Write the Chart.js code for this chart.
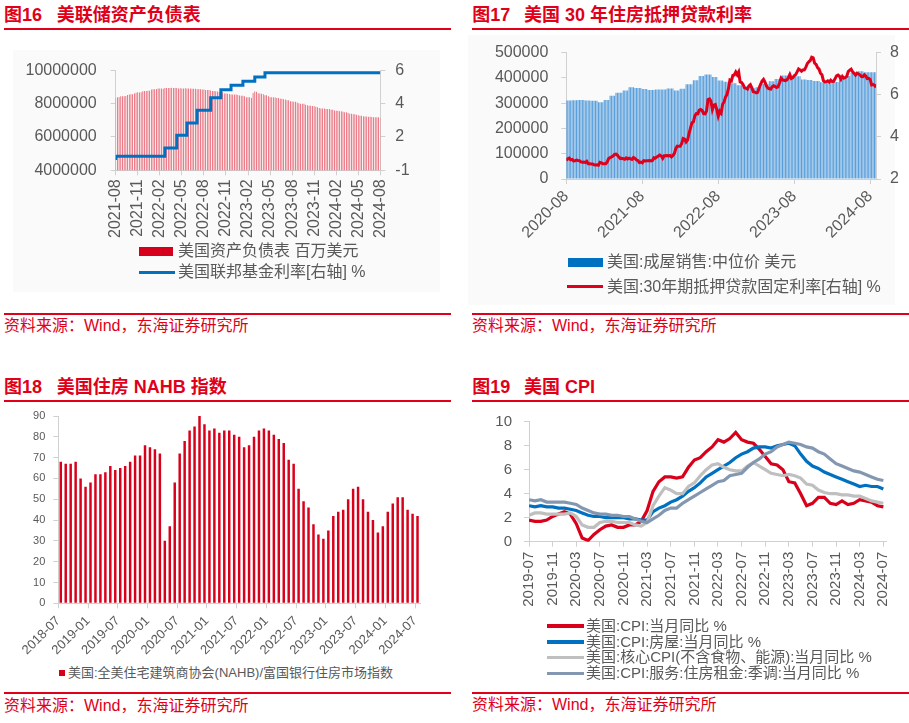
<!DOCTYPE html>
<html><head><meta charset="utf-8">
<script src="https://cdn.jsdelivr.net/npm/chart.js@4.4.1/dist/chart.umd.min.js"></script>
<style>
html,body{margin:0;padding:0;background:#fff;}
body{width:909px;height:723px;position:relative;overflow:hidden;font-family:'Liberation Sans','Noto Sans CJK SC',sans-serif;}
.t{position:absolute;font-weight:bold;font-size:18px;color:#e0001a;line-height:20px;white-space:nowrap;}
.rule{position:absolute;height:2px;background:#e0001a;}
.src{position:absolute;font-size:16px;color:#e0001a;line-height:18px;white-space:nowrap;}
.leg{position:absolute;color:#595959;white-space:nowrap;}
.sw{position:absolute;}
.bg{position:absolute;background:#fafafa;}
canvas{position:absolute;}
</style>
</head><body>
<div class="bg" style="left:13px;top:50px;width:427px;height:242px;"></div>
<div class="bg" style="left:468px;top:35px;width:427px;height:270px;"></div>

<div class="t" style="left:4px;top:5px;">图16</div>
<div class="t" style="left:56.7px;top:5px;">美联储资产负债表</div>
<div class="rule" style="left:4px;top:28px;width:447px;"></div>
<div class="t" style="left:472.3px;top:5px;">图17</div>
<div class="t" style="left:524px;top:5px;">美国 30 年住房抵押贷款利率</div>
<div class="rule" style="left:472px;top:28px;width:437px;"></div>
<div class="t" style="left:4px;top:376.5px;">图18</div>
<div class="t" style="left:56.7px;top:376.5px;">美国住房 NAHB 指数</div>
<div class="rule" style="left:4px;top:400px;width:447px;"></div>
<div class="t" style="left:472.3px;top:376.5px;">图19</div>
<div class="t" style="left:524px;top:376.5px;">美国 CPI</div>
<div class="rule" style="left:472px;top:400px;width:437px;"></div>

<canvas id="c16" width="455" height="210" style="left:0;top:40px;"></canvas>
<canvas id="c17" width="454" height="240" style="left:455px;top:30px;"></canvas>
<canvas id="c18" width="455" height="265" style="left:0;top:400px;"></canvas>
<canvas id="c19" width="454" height="225" style="left:455px;top:400px;"></canvas>

<!-- legends -->
<div class="sw" style="left:139px;top:247px;width:34px;height:9px;background:#d6001c;"></div>
<div class="leg" style="left:178px;top:242px;font-size:16px;line-height:18px;">美国资产负债表 百万美元</div>
<div class="sw" style="left:139px;top:270.5px;width:36px;height:3px;background:#0070c0;"></div>
<div class="leg" style="left:178px;top:263px;font-size:16px;line-height:18px;">美国联邦基金利率[右轴] %</div>

<div class="sw" style="left:568px;top:258px;width:35px;height:9px;background:#0070c0;"></div>
<div class="leg" style="left:607px;top:253px;font-size:16px;line-height:18px;">美国:成屋销售:中位价 美元</div>
<div class="sw" style="left:567px;top:285.3px;width:36px;height:3px;background:#e0001b;"></div>
<div class="leg" style="left:607px;top:278px;font-size:16px;line-height:18px;">美国:30年期抵押贷款固定利率[右轴] %</div>

<div class="sw" style="left:59px;top:670px;width:6px;height:6px;background:#d6001c;"></div>
<div class="leg" style="left:68px;top:665px;font-size:13px;line-height:16px;">美国:全美住宅建筑商协会(NAHB)/富国银行住房市场指数</div>

<div class="sw" style="left:547px;top:624.3px;width:37px;height:3.5px;background:#d9001b;"></div>
<div class="leg" style="left:586px;top:618px;font-size:15px;line-height:16px;">美国:CPI:当月同比 %</div>
<div class="sw" style="left:547px;top:640px;width:37px;height:3.5px;background:#0070c0;"></div>
<div class="leg" style="left:586px;top:633.7px;font-size:15px;line-height:16px;">美国:CPI:房屋:当月同比 %</div>
<div class="sw" style="left:547px;top:655.6px;width:37px;height:3.5px;background:#bfbfbf;"></div>
<div class="leg" style="left:586px;top:649.3px;font-size:15px;line-height:16px;">美国:核心CPI(不含食物、能源):当月同比 %</div>
<div class="sw" style="left:547px;top:671.6px;width:37px;height:3.5px;background:#8497b0;"></div>
<div class="leg" style="left:586px;top:665.3px;font-size:15px;line-height:16px;">美国:CPI:服务:住房租金:季调:当月同比 %</div>

<div class="rule" style="left:4px;top:313px;width:447px;"></div>
<div class="src" style="left:4px;top:317px;">资料来源：Wind，东海证券研究所</div>
<div class="rule" style="left:472px;top:313px;width:437px;"></div>
<div class="src" style="left:472px;top:317px;">资料来源：Wind，东海证券研究所</div>
<div class="rule" style="left:4px;top:692px;width:447px;"></div>
<div class="src" style="left:4px;top:696.5px;">资料来源：Wind，东海证券研究所</div>
<div class="rule" style="left:472px;top:692px;width:437px;"></div>
<div class="src" style="left:472px;top:696px;">资料来源：Wind，东海证券研究所</div>

<script>
// ---------- 图16 美联储资产负债表 (weekly, 百万美元) ----------
const fedTickLabels = ['2021-08','2021-11','2022-02','2022-05','2022-08','2022-11','2023-02','2023-05','2023-08','2023-11','2024-02','2024-05','2024-08'];
const fedAssets = [
 8350000,8380000,8380000,8440000,8450000,8450000,8460000,8520000,8550000,8560000,
 8560000,8610000,8660000,8680000,8670000,8690000,8750000,8760000,8760000,8770000,
 8780000,8850000,8870000,8870000,8880000,8910000,8910000,8910000,8900000,8940000,
 8940000,8940000,8940000,8960000,8940000,8940000,8940000,8910000,8930000,8910000,
 8910000,8920000,8910000,8910000,8910000,8900000,8890000,8890000,8870000,8880000,
 8860000,8850000,8850000,8820000,8820000,8820000,8790000,8760000,8760000,8740000,
 8730000,8700000,8700000,8690000,8610000,8610000,8600000,8580000,8550000,8550000,
 8550000,8550000,8520000,8490000,8470000,8470000,8440000,8390000,8380000,8380000,
 8340000,8640000,8730000,8710000,8630000,8610000,8590000,8560000,8500000,8500000,
 8440000,8390000,8390000,8390000,8370000,8340000,8340000,8300000,8290000,8260000,
 8250000,8210000,8210000,8150000,8130000,8120000,8120000,8070000,8020000,8000000,
 8000000,7990000,7930000,7900000,7870000,7870000,7860000,7840000,7810000,7790000,
 7740000,7710000,7710000,7710000,7680000,7680000,7680000,7630000,7630000,7590000,
 7580000,7570000,7540000,7540000,7520000,7490000,7490000,7440000,7400000,7400000,
 7360000,7360000,7340000,7300000,7280000,7280000,7250000,7230000,7230000,7220000,
 7220000,7200000,7180000,7180000,7180000,7180000,7160000];
const fedRateChangeWeek = [0,29,36,42,48,56,62,68,75,82,88,100,156];
const fedRateLevel      = [0.62,0.84,1.34,2.1,2.84,3.6,4.36,4.84,5.1,5.34,5.6,5.86,5.86];
const fedLeftTicks  = [4000000,6000000,8000000,10000000];
const fedRightTicks = [0,2,4,6];
const fedRightTickLabels = ['-1','2','4','6'];

// ---------- 图17 美国30年住房抵押贷款利率 ----------
const mortTickLabels = ['2020-08','2021-08','2022-08','2023-08','2024-08'];
const mortTickWeek = [0,52,104,156,208];
const mortRate = [
 2.88,2.96,2.99,2.91, 2.93,2.86,2.87,2.90, 2.88,2.87,2.81,2.80,2.81, 2.78,2.84,2.72,2.72, 2.71,2.71,2.67,2.66,2.67,
 2.65,2.79,2.77,2.73, 2.73,2.73,2.81,2.97, 3.02,3.05,3.09,3.17, 3.18,3.13,3.04,2.97,2.98, 2.96,2.94,3.00,2.95, 2.99,2.96,2.93,3.02,
 2.98,2.90,2.88,2.78,2.80, 2.77,2.87,2.86,2.87, 2.87,2.88,2.86,2.88,3.01, 2.99,3.05,3.09,3.14, 3.09,2.98,3.10,3.10, 3.11,3.10,3.12,3.05,3.11,
 3.22,3.45,3.56,3.55, 3.55,3.69,3.92,3.89, 3.76,3.85,4.16,4.42,4.67, 4.72,5.00,5.11,5.10, 5.27,5.30,5.25,5.10, 5.09,5.23,5.78,5.81,5.70,
 5.30,5.51,5.54,5.30, 4.99,5.22,5.13,5.55, 5.66,5.89,6.02,6.29,6.70, 6.66,6.92,6.94,7.08, 6.95,7.08,6.61,6.58, 6.49,6.33,6.31,6.27,6.42,
 6.48,6.33,6.15,6.13, 6.09,6.12,6.32,6.50, 6.65,6.73,6.60,6.42,6.32, 6.28,6.27,6.39,6.43, 6.39,6.35,6.39,6.57, 6.79,6.71,6.69,6.67,6.71,
 6.81,6.96,6.78,6.81, 6.90,6.96,7.09,7.23,7.18, 7.12,7.18,7.19,7.31, 7.49,7.57,7.63,7.79, 7.76,7.50,7.44,7.29,7.22, 7.03,6.95,6.67,6.61,
 6.62,6.66,6.60,6.69, 6.63,6.64,6.77,6.90,6.94, 6.88,6.74,6.87,6.79, 6.82,6.88,7.10,7.17, 7.22,7.09,7.02,6.94,7.03, 6.99,6.95,6.87,6.86,
 6.95,6.89,6.77,6.78, 6.73,6.47,6.49,6.46,6.35];
// monthly median existing-home price, 2020-08 .. 2024-08, and weeks in each month
const homePrice = [
 310600,311800,313000,310800,309800,
 303900,313000,329100,341600,350300,363300,359900,356700,352800,353900,353900,358000,
 350300,357300,375300,391200,407600,413800,403800,389500,384800,379100,370700,366900,
 359000,363000,375700,386700,396100,410200,406700,407100,394300,391800,387700,382600,
 379100,384500,393500,407600,419300,426900,422600,422600];
const homeMonthWeeks = [
 4,4,5,4,5,
 4,4,4,5,4,4,5,4,5,4,4,5,
 4,4,5,4,4,5,4,4,5,4,4,5,
 4,4,5,4,4,5,4,5,4,4,5,4,
 4,5,4,4,5,4,4,5];

// ---------- 图18 NAHB ----------
const nahbTickLabels = ['2018-07','2019-01','2019-07','2020-01','2020-07','2021-01','2021-07','2022-01','2022-07','2023-01','2023-07','2024-01','2024-07'];
const nahbIndex = [
 68,67,67,68,60,56,
 58,62,62,63,66,64,65,66,68,71,71,76,
 75,74,72,30,37,58,72,78,83,85,90,86,
 83,84,82,83,83,81,80,75,76,80,83,84,
 83,81,79,77,69,67,55,49,46,38,33,31,
 35,42,44,45,50,55,56,50,44,40,34,37,
 44,48,51,51,45,43,42];

// ---------- 图19 CPI (2019-07 .. 2024-07) ----------
const cpiTickLabels = ['2019-07','2019-11','2020-03','2020-07','2020-11','2021-03','2021-07','2021-11','2022-03','2022-07','2022-11','2023-03','2023-07','2023-11','2024-03','2024-07'];
const cpiHeadline = [1.8,1.7,1.7,1.8,2.1,2.3,
 2.5,2.3,1.5,0.3,0.1,0.6,1.0,1.3,1.4,1.2,1.2,1.4,
 1.4,1.7,2.6,4.2,5.0,5.4,5.4,5.3,5.4,6.2,6.8,7.0,
 7.5,7.9,8.5,8.3,8.6,9.1,8.5,8.3,8.2,7.7,7.1,6.5,
 6.4,6.0,5.0,4.9,4.0,3.0,3.2,3.7,3.7,3.2,3.1,3.4,
 3.1,3.2,3.5,3.4,3.3,3.0,2.9];
const cpiHousing = [3.0,2.9,3.0,2.9,2.9,2.8,
 2.8,2.7,2.6,2.4,2.2,2.1,2.1,2.0,2.0,2.0,2.0,1.9,
 1.9,1.8,1.8,2.5,2.8,3.0,3.3,3.5,3.8,4.2,4.5,4.9,
 5.4,5.7,6.0,6.3,6.6,7.0,7.3,7.5,7.8,7.9,7.9,7.8,
 8.0,8.1,8.2,8.0,7.3,6.7,6.3,6.1,5.8,5.6,5.4,5.2,
 5.0,4.8,4.6,4.7,4.6,4.6,4.4];
const cpiCore = [2.2,2.4,2.4,2.3,2.3,2.3,
 2.3,2.4,2.1,1.4,1.2,1.2,1.6,1.7,1.7,1.6,1.6,1.6,
 1.4,1.3,1.6,3.0,3.8,4.5,4.3,4.0,4.0,4.6,4.9,5.5,
 6.0,6.4,6.5,6.2,6.0,5.9,5.9,6.3,6.6,6.3,6.0,5.7,
 5.6,5.5,5.6,5.5,5.3,4.8,4.7,4.3,4.1,4.0,4.0,3.9,
 3.9,3.8,3.8,3.6,3.4,3.3,3.2];
const cpiRent = [3.5,3.4,3.5,3.3,3.3,3.3,
 3.3,3.2,3.1,2.8,2.6,2.4,2.3,2.3,2.2,2.2,2.1,2.1,
 1.9,1.7,1.6,1.9,2.2,2.6,2.8,2.8,3.2,3.5,3.8,4.1,
 4.4,4.7,5.0,5.1,5.5,5.6,5.7,6.2,6.6,6.9,7.3,7.5,
 7.9,8.1,8.3,8.2,8.1,7.9,7.8,7.5,7.3,6.9,6.5,6.3,
 6.1,5.9,5.8,5.6,5.4,5.2,5.1];

// ---------- rendering ----------
Chart.defaults.font.family = "'Liberation Sans','Noto Sans CJK SC',sans-serif";
Chart.defaults.color = '#595959';
const AX = '#d0d0d0';
const grid = () => ({display:true, drawOnChartArea:false, drawTicks:true, tickLength:5, color:AX, tickColor:AX, offset:false});
const border = () => ({display:true, color:AX, width:1});
const base = (pad) => ({responsive:false, animation:false, layout:{padding:pad},
  plugins:{legend:{display:false}, tooltip:{enabled:false}}});
const setTicks = (vals) => (s) => { s.ticks = vals.map(v => ({value:v})); };

// 图16
new Chart(document.getElementById('c16'), {
  type:'bar',
  data:{datasets:[
    {type:'line', label:'美国联邦基金利率[右轴] %', yAxisID:'y1', order:0,
     data: fedRateChangeWeek.map((w,i)=>({x:w, y:fedRateLevel[i]})),
     borderColor:'#0070c0', borderWidth:3, pointRadius:0, stepped:'after'},
    {type:'bar', label:'美国资产负债表 百万美元', yAxisID:'y', order:1,
     data: fedAssets.map((v,i)=>({x:i, y:v})),
     backgroundColor:'#e4485a', barPercentage:0.42, categoryPercentage:1}
  ]},
  options:Object.assign(base({top:30.3,left:0,right:0,bottom:0}), {scales:{
    x:{type:'linear', min:0, max:156, offset:false, grid:grid(), border:border(),
       afterBuildTicks:setTicks(fedTickLabels.map((l,i)=>i*13)),
       afterFit:s=>{s.height=79.7;},
       ticks:{autoSkip:false, minRotation:90, maxRotation:90, padding:4, font:{size:16},
              callback:v=>fedTickLabels[Math.round(v/13)]}},
    y:{position:'left', min:4000000, max:10000000, grid:grid(), border:border(),
       afterBuildTicks:setTicks(fedLeftTicks), afterFit:s=>{s.width=115.7;},
       ticks:{padding:14, font:{size:16}, callback:v=>String(v)}},
    y1:{position:'right', min:0, max:6, grid:grid(), border:border(),
       afterBuildTicks:setTicks(fedRightTicks), afterFit:s=>{s.width=74.7;},
       ticks:{padding:10, font:{size:16}, callback:(v,i)=>fedRightTickLabels[i]}}
  }})
});

// 图17
const priceWeekly = [];
homeMonthWeeks.forEach((n,m)=>{ for(let k=0;k<n;k++) priceWeekly.push(homePrice[m]); });
new Chart(document.getElementById('c17'), {
  type:'bar',
  data:{datasets:[
    {type:'line', label:'美国:30年期抵押贷款固定利率[右轴] %', yAxisID:'y1', order:0,
     data: mortRate.map((v,i)=>({x:i, y:v})),
     borderColor:'#e0001b', borderWidth:3, pointRadius:0, tension:0},
    {type:'bar', label:'美国:成屋销售:中位价 美元', yAxisID:'y', order:1,
     data: priceWeekly.map((v,i)=>({x:i, y:v})),
     backgroundColor:'#5a9fdb', barPercentage:0.75, categoryPercentage:1}
  ]},
  options:Object.assign(base({top:22.7,left:0,right:0,bottom:0}), {scales:{
    x:{type:'linear', min:0, max:mortRate.length-1, offset:false, grid:grid(), border:border(),
       afterBuildTicks:setTicks(mortTickWeek), afterFit:s=>{s.height=91;},
       ticks:{autoSkip:false, minRotation:45, maxRotation:45, padding:3, font:{size:16},
              callback:(v,i)=>mortTickLabels[i]}},
    y:{position:'left', min:0, max:500000, grid:grid(), border:border(),
       afterBuildTicks:setTicks([0,100000,200000,300000,400000,500000]), afterFit:s=>{s.width=111.3;},
       ticks:{padding:13, font:{size:16}, callback:v=>String(v)}},
    y1:{position:'right', min:2, max:8, grid:grid(), border:border(),
       afterBuildTicks:setTicks([2,3,4,5,6,7,8]), afterFit:s=>{s.width=33;},
       ticks:{padding:9, font:{size:16}, callback:v=>String(v)}}
  }})
});

// 图18
new Chart(document.getElementById('c18'), {
  type:'bar',
  data:{datasets:[
    {label:'美国:全美住宅建筑商协会(NAHB)/富国银行住房市场指数',
     data: nahbIndex.map((v,i)=>({x:i+0.5, y:v})),
     backgroundColor:'#d9001b', barPercentage:0.5, categoryPercentage:1}
  ]},
  options:Object.assign(base({top:16,left:0,right:35,bottom:0}), {scales:{
    x:{type:'linear', min:0, max:nahbIndex.length, offset:false, grid:grid(), border:border(),
       afterBuildTicks:setTicks(nahbTickLabels.map((l,i)=>i*6)), afterFit:s=>{s.height=61.7;},
       ticks:{autoSkip:false, minRotation:45, maxRotation:45, padding:5, font:{size:13},
              callback:(v,i)=>nahbTickLabels[i]}},
    y:{position:'left', min:0, max:90, grid:grid(), border:border(),
       afterBuildTicks:setTicks([0,10,20,30,40,50,60,70,80,90]), afterFit:s=>{s.width=58.3;},
       ticks:{padding:8, font:{size:11}, callback:v=>String(v)}}
  }})
});

// 图19
const cpiSeries = [
  {label:'美国:CPI:当月同比 %', data:cpiHeadline, color:'#d9001b', order:4},
  {label:'美国:CPI:房屋:当月同比 %', data:cpiHousing, color:'#0070c0', order:3},
  {label:'美国:核心CPI(不含食物、能源):当月同比 %', data:cpiCore, color:'#bfbfbf', order:2},
  {label:'美国:CPI:服务:住房租金:季调:当月同比 %', data:cpiRent, color:'#8497b0', order:1}
];
new Chart(document.getElementById('c19'), {
  type:'line',
  data:{datasets: cpiSeries.map(s=>({label:s.label, order:s.order,
     data:s.data.map((v,i)=>({x:i, y:v})), borderColor:s.color, borderWidth:3.2,
     pointRadius:0, tension:0}))},
  options:Object.assign(base({top:21.7,left:0,right:22.7,bottom:0}), {scales:{
    x:{type:'linear', min:0, max:60.5, offset:false, grid:grid(), border:border(),
       afterBuildTicks:setTicks(cpiTickLabels.map((l,i)=>i*4)), afterFit:s=>{s.height=83.3;},
       ticks:{autoSkip:false, minRotation:90, maxRotation:90, padding:5, font:{size:15},
              callback:(v,i)=>cpiTickLabels[i]}},
    y:{position:'left', min:0, max:10, grid:grid(), border:border(),
       afterBuildTicks:setTicks([0,2,4,6,8,10]), afterFit:s=>{s.width=74;},
       ticks:{padding:12, font:{size:15}, callback:v=>String(v)}}
  }})
});
</script>
</body></html>
